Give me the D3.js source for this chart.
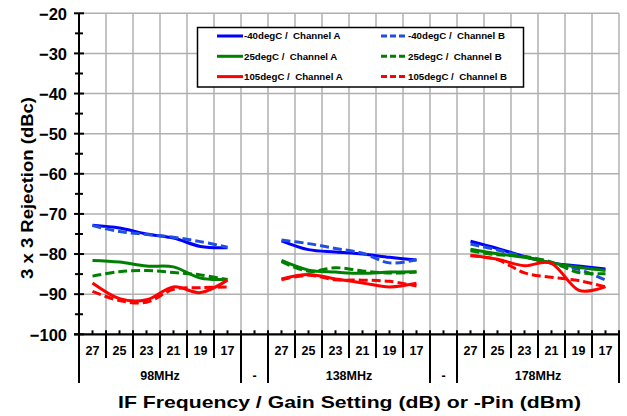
<!DOCTYPE html>
<html><head><meta charset="utf-8">
<script src="https://cdn.jsdelivr.net/npm/d3@7"></script>
<style>body{margin:0;background:#fff}svg{display:block}text{font-family:"Liberation Sans",Arial,sans-serif;font-weight:bold}</style>
</head><body><svg id="c" width="627" height="416"></svg>
<script>
const gainLabels = ["27","25","23","21","19","17","","27","25","23","21","19","17","","27","25","23","21","19","17"];
const groupLabels = ["98MHz","-","138MHz","-","178MHz"];
const groupSpans = [6,1,6,1,6];
const yTicks = [-100,-90,-80,-70,-60,-50,-40,-30,-20];
const seriesNames = ["-40degC /  Channel A","-40degC /  Channel B","25degC /  Channel A","25degC /  Channel B","105degC /  Channel A","105degC /  Channel B"];
const blueA  = [-72.8,-73.5,-75.0,-76.0,-78.1,-78.4,null,-76.7,-78.9,-79.5,-80.0,-80.8,-81.5,null,-76.8,-78.6,-80.6,-82.2,-83.0,-83.7];
const blueB  = [-72.9,-74.4,-75.1,-75.8,-76.9,-78.3,null,-76.5,-77.4,-78.6,-79.8,-82.2,-81.4,null,-77.5,-79.0,-80.7,-82.3,-83.8,-86.5];
const greenA = [-81.6,-82.0,-83.0,-83.2,-86.0,-86.3,null,-81.6,-84.0,-84.5,-84.8,-84.5,-84.4,null,-78.8,-79.9,-80.8,-82.2,-83.3,-84.1];
const greenB = [-85.5,-84.4,-84.1,-84.6,-85.2,-86.4,null,-81.9,-84.3,-83.4,-84.2,-84.7,-84.5,null,-79.2,-80.2,-80.6,-82.0,-84.6,-84.9];
const redA   = [-87.2,-91.1,-91.4,-88.2,-89.6,-86.5,null,-86.2,-85.1,-86.2,-87.2,-88.2,-87.3,null,-80.3,-81.3,-82.9,-82.3,-89.0,-88.1];
const redB   = [-89.3,-91.6,-92.0,-88.8,-88.4,-88.2,null,-86.4,-85.3,-86.4,-86.5,-86.8,-88.0,null,-80.4,-81.4,-84.7,-85.8,-86.6,-88.2];

const series = [
  {name:seriesNames[0], values:blueA,  color:"#0000ff", dash:null},
  {name:seriesNames[1], values:blueB,  color:"#1f4fe0", dash:"9,4"},
  {name:seriesNames[2], values:greenA, color:"#008000", dash:null},
  {name:seriesNames[3], values:greenB, color:"#008000", dash:"9,4"},
  {name:seriesNames[4], values:redA,   color:"#ff0000", dash:null},
  {name:seriesNames[5], values:redB,   color:"#ff0000", dash:"9,4"}
];

const svg = d3.select("#c");
const L=79, R=619, T=13.3, B=334.3;
const idx = d3.range(gainLabels.length);
const x = d3.scaleBand().domain(idx).range([L,R]).padding(0);
const y = d3.scaleLinear().domain([-100,-20]).range([B,T]);

// gridlines
const grid = svg.append("g").attr("stroke","#b0b0b0").attr("stroke-width",1.5);
grid.selectAll("line.h").data(yTicks.filter(v=>v>-100)).join("line")
  .attr("x1",L).attr("x2",R).attr("y1",d=>y(d)).attr("y2",d=>y(d));
grid.selectAll("line.v").data(idx.map(i=>x(i)+x.bandwidth())).join("line")
  .attr("x1",d=>d).attr("x2",d=>d).attr("y1",T).attr("y2",B);

// y axis
const yAxis = d3.axisLeft(y).tickValues(yTicks).tickSize(0).tickPadding(0).tickFormat(d3.format("d"));
const yg = svg.append("g").attr("transform",`translate(${L},0)`).call(yAxis);
yg.select(".domain").remove();
yg.selectAll("text").attr("x",-12).attr("font-size",16.5).attr("fill","#000").attr("font-family",null).attr("dy","0.35em");
const ticks = svg.append("g").attr("stroke","#000").attr("stroke-width",2);
ticks.selectAll("line.maj").data(yTicks).join("line")
  .attr("x1",L-5).attr("x2",L+5).attr("y1",d=>y(d)).attr("y2",d=>y(d));
ticks.selectAll("line.min").data(d3.range(-95,-20,10)).join("line")
  .attr("x1",L-4).attr("x2",L+4).attr("y1",d=>y(d)).attr("y2",d=>y(d));
ticks.append("line").attr("x1",L).attr("x2",L).attr("y1",T).attr("y2",383);

// x axis
const xg = svg.append("g").attr("stroke","#000");
xg.append("line").attr("x1",L-5).attr("x2",R).attr("y1",B).attr("y2",B).attr("stroke-width",2.2);
xg.selectAll("line.c").data(idx).join("line").attr("stroke-width",2)
  .attr("x1",i=>x(i)+x.bandwidth()/2).attr("x2",i=>x(i)+x.bandwidth()/2).attr("y1",B-4).attr("y2",B);
let acc=0; const gb=[0];
groupSpans.forEach(s=>{acc+=s; gb.push(acc);});
const gbSet = new Set(gb);
xg.selectAll("line.b").data(d3.range(1,gainLabels.length+1)).join("line").attr("stroke-width",2)
  .attr("x1",i=>x(i-1)+x.bandwidth()).attr("x2",i=>x(i-1)+x.bandwidth())
  .attr("y1",B-4).attr("y2",i=>gbSet.has(i)?383:358);

svg.append("g").selectAll("text").data(idx.filter(i=>gainLabels[i]!=="")).join("text")
  .attr("x",i=>x(i)+x.bandwidth()/2).attr("y",351).attr("dy","0.35em")
  .attr("text-anchor","middle").attr("font-size",12.5).text(i=>gainLabels[i]);
svg.append("g").selectAll("text").data(groupLabels).join("text")
  .attr("x",(d,k)=>(x(gb[k])+x(gb[k+1]-1)+x.bandwidth())/2).attr("y",376).attr("dy","0.35em")
  .attr("text-anchor","middle").attr("font-size",12.5).text(d=>d);

// titles
svg.append("text").attr("x",349.5).attr("y",402).attr("dy","0.35em").attr("text-anchor","middle")
  .attr("font-size",17).attr("textLength",463).attr("lengthAdjust","spacingAndGlyphs")
  .text("IF Frequency / Gain Setting (dB) or -Pin (dBm)");
svg.append("text").attr("transform","translate(27,188) rotate(-90)").attr("dy","0.35em").attr("text-anchor","middle")
  .attr("font-size",17).attr("textLength",182).attr("lengthAdjust","spacingAndGlyphs")
  .text("3 x 3 Rejection (dBc)");

// lines
const line = d3.line().defined(d=>d.v!==null).x(d=>x(d.i)+x.bandwidth()/2).y(d=>y(d.v)).curve(d3.curveCatmullRom.alpha(0));
svg.append("g").selectAll("path").data(series).join("path")
  .attr("fill","none").attr("stroke",d=>d.color).attr("stroke-width",3)
  .attr("stroke-dasharray",d=>d.dash)
  .attr("d",d=>line(d.values.map((v,i)=>({i,v}))));

// legend
const lg = svg.append("g");
lg.append("rect").attr("x",197.5).attr("y",27.5).attr("width",326).attr("height",59.5)
  .attr("fill","#fff").attr("stroke","#000").attr("stroke-width",1.5);
const items = lg.selectAll("g").data(series).join("g")
  .attr("transform",(d,k)=>`translate(${k%2===0?217:381},${36+Math.floor(k/2)*20.3})`);
items.append("line").attr("x1",0).attr("x2",26).attr("stroke",d=>d.color).attr("stroke-width",3)
  .attr("stroke-dasharray",d=>d.dash?"6,3":null);
items.append("text").attr("x",27).attr("dy","0.35em").attr("font-size",9.7).attr("xml:space","preserve")
  .style("white-space","pre").text(d=>d.name);
</script></body></html>
